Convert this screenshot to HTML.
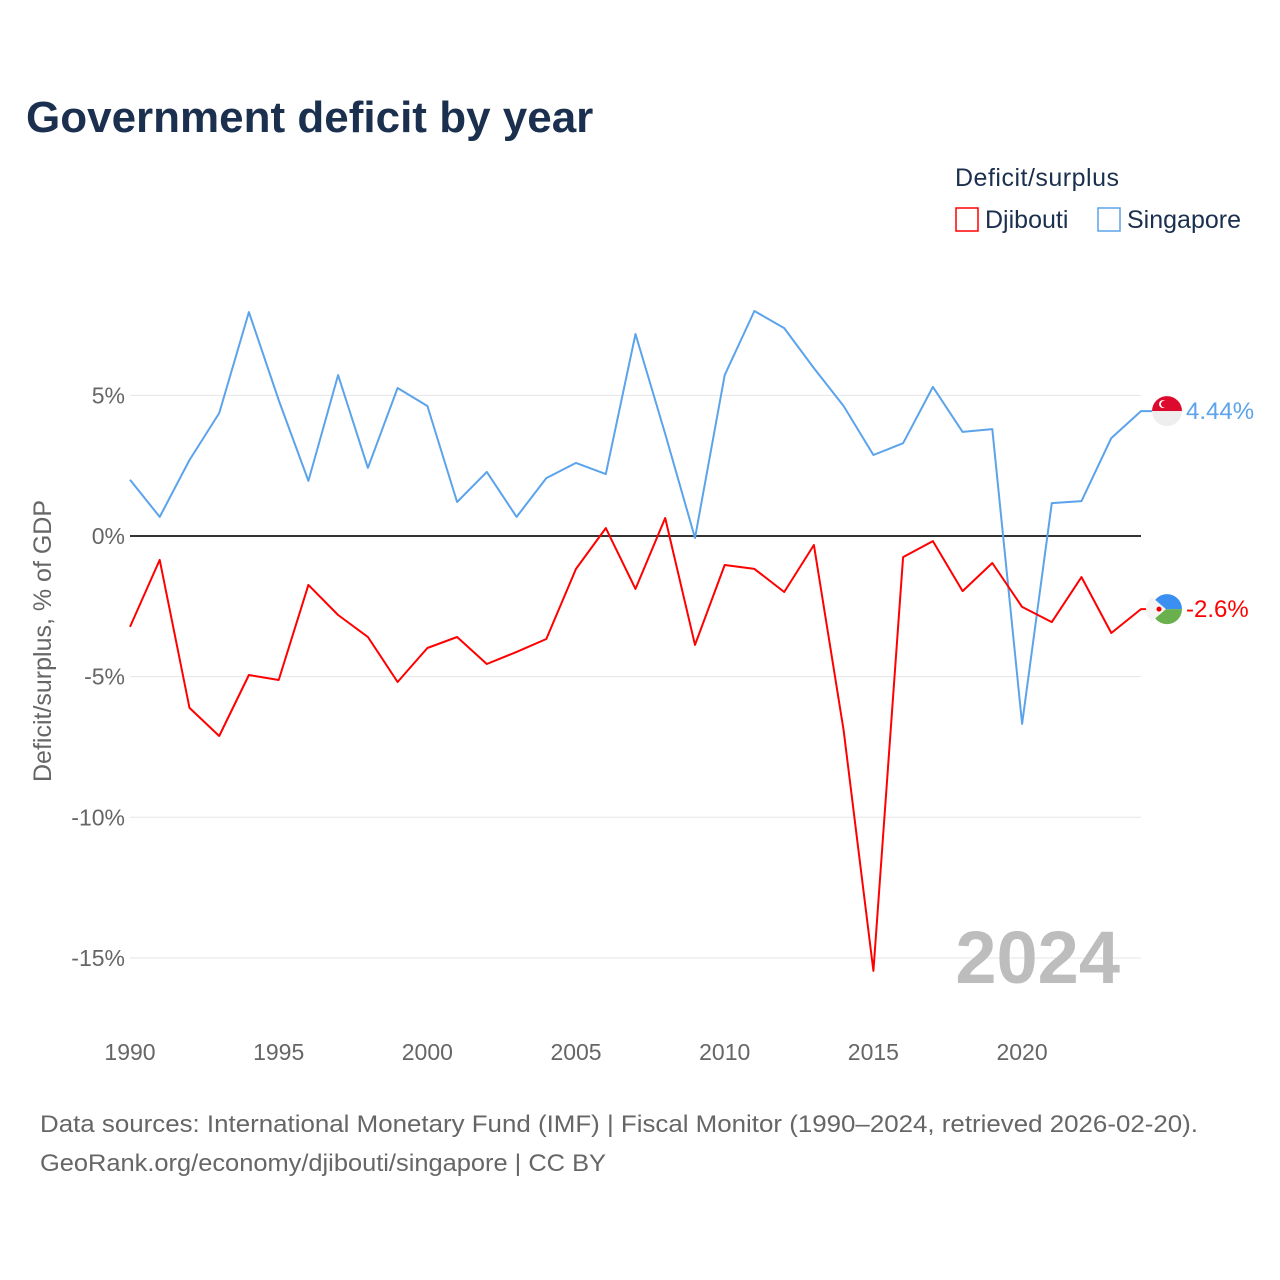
<!DOCTYPE html>
<html><head><meta charset="utf-8">
<style>
body{margin:0;background:#fff;font-family:"Liberation Sans",sans-serif;}
#wrap{position:relative;width:1280px;height:1280px;overflow:hidden;background:#fff}
</style></head>
<body>
<div id="wrap">
<svg id="chart" width="1280" height="1280" style="position:absolute;left:0;top:0">
<text x="26" y="132" font-size="44" font-weight="bold" fill="#1b2f4e">Government deficit by year</text>
<text x="955" y="186" font-size="25" fill="#1b2f4e" letter-spacing="0.5">Deficit/surplus</text>
<g>
<rect x="956" y="208" width="22" height="23" fill="#fff" stroke="#ff0000" stroke-width="1.5"/>
<text x="985" y="228" font-size="25" fill="#1b2f4e">Djibouti</text></g>
<g>
<rect x="1098" y="208" width="22" height="23" fill="#fff" stroke="#5ba3eb" stroke-width="1.5"/>
<text x="1127" y="228" font-size="25" fill="#1b2f4e">Singapore</text></g>
<text transform="translate(51,641) rotate(-90)" text-anchor="middle" font-size="25" fill="#666">Deficit/surplus, % of GDP</text>
<g id="grid"></g><g id="xt"></g><g id="lines"></g>
<text x="1120" y="983" text-anchor="end" font-size="74" font-weight="bold" fill="#bdbdbd">2024</text>
<text x="40" y="1132" font-size="24" fill="#666" textLength="1158" lengthAdjust="spacingAndGlyphs">Data sources: International Monetary Fund (IMF) | Fiscal Monitor (1990–2024, retrieved 2026-02-20).</text>
<text x="40" y="1171" font-size="24" fill="#666" textLength="566" lengthAdjust="spacingAndGlyphs">GeoRank.org/economy/djibouti/singapore | CC BY</text>
</svg>
</div>
<script>
const years=[];for(let y=1990;y<=2024;y++)years.push(y);
const singapore=[2.0,0.68,2.7,4.37,7.96,4.83,1.96,5.72,2.42,5.26,4.62,1.21,2.28,0.68,2.06,2.6,2.2,7.18,3.63,-0.07,5.72,8.0,7.39,5.97,4.62,2.88,3.3,5.3,3.7,3.8,-6.68,1.17,1.24,3.48,4.44];
const djibouti=[-3.23,-0.85,-6.11,-7.11,-4.94,-5.12,-1.74,-2.81,-3.59,-5.19,-3.98,-3.59,-4.55,-4.12,-3.66,-1.17,0.28,-1.88,0.64,-3.87,-1.03,-1.17,-1.99,-0.32,-6.9,-15.46,-0.75,-0.18,-1.96,-0.96,-2.52,-3.06,-1.46,-3.45,-2.6];
const yTicks=[5,0,-5,-10,-15];
const yTickLabels=["5%","0%","-5%","-10%","-15%"];
const xTicks=[1990,1995,2000,2005,2010,2015,2020];
const NS="http://www.w3.org/2000/svg";
const X=y=>130+(y-1990)*(1011/34);
const Y=v=>536-v*28.13;
function mk(t,a,p){const e=document.createElementNS(NS,t);for(const k in a)e.setAttribute(k,a[k]);p.appendChild(e);return e;}
const grid=document.getElementById('grid');
yTicks.forEach((v,i)=>{
 const l=mk('line',{x1:130,x2:1141,y1:Y(v),y2:Y(v),stroke:v===0?'#333':'#e6e6e6','stroke-width':v===0?2:1},grid);
 
 
 const t=mk('text',{x:125,y:Y(v)+8,'text-anchor':'end','font-size':23,fill:'#666'},grid);
 t.textContent=yTickLabels[i];
 
 
});
const xt=document.getElementById('xt');
xTicks.forEach(y=>{
 const t=mk('text',{x:X(y),y:1060,'text-anchor':'middle','font-size':23,fill:'#666'},xt);
 t.textContent=y;
 
 
});
const lines=document.getElementById('lines');
function series(vals,color,name){
 const pts=vals.map((v,i)=>X(years[i]).toFixed(1)+','+Y(v).toFixed(1));
 const last=vals[vals.length-1];
 pts.push('1152,'+Y(last).toFixed(1));
 const p=mk('polyline',{points:pts.join(' '),fill:'none',stroke:color,'stroke-width':2,'stroke-linejoin':'round'},lines);
 
 
 const t=mk('text',{x:1186,y:Y(last)+8,'font-size':24,fill:color},lines);
 t.textContent=(Math.round(last*100)/100)+'%';
 
 
 return Y(last);
}
const ys=series(singapore,'#5ba3eb','singapore');
const yd=series(djibouti,'#ff0000','djibouti');
const cx=1167,r=15;
let g=mk('g',{},lines);


mk('path',{d:`M${cx-r},${ys} A${r},${r} 0 0 1 ${cx+r},${ys} Z`,fill:'#dc0a2c'},g);
mk('path',{d:`M${cx-r},${ys} A${r},${r} 0 0 0 ${cx+r},${ys} Z`,fill:'#eee'},g);
mk('circle',{cx:cx-4,cy:ys-7,r:4,fill:'#fff'},g);
mk('circle',{cx:cx-2.5,cy:ys-7,r:3.5,fill:'#dc0a2c'},g);
g=mk('g',{},lines);


mk('path',{d:`M${cx-r},${yd} A${r},${r} 0 0 1 ${cx+r},${yd} Z`,fill:'#3a8ff0'},g);
mk('path',{d:`M${cx-r},${yd} A${r},${r} 0 0 0 ${cx+r},${yd} Z`,fill:'#6ab04c'},g);
mk('path',{d:`M${cx-r},${yd-r+3} L${cx-1},${yd} L${cx-r},${yd+r-3} A${r},${r} 0 0 1 ${cx-r},${yd-r+3} Z`,fill:'#f4f4f4'},g);
mk('circle',{cx:cx-8,cy:yd,r:2.5,fill:'#e00'},g);
</script>
</body></html>
